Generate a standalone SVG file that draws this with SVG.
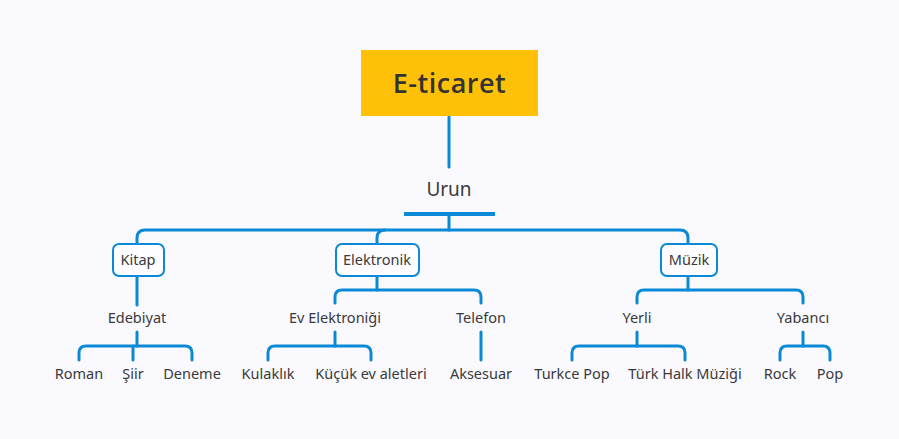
<svg xmlns="http://www.w3.org/2000/svg" width="899" height="439" viewBox="0 0 899 439">
<style>
.c{fill:none;stroke:#0a8ad6;stroke-width:3;stroke-linecap:round;stroke-linejoin:round}
.t{font-family:"Noto Sans","Open Sans",sans-serif;font-size:14.5px;fill:#3a3a3a;text-anchor:middle}
.b{fill:#fdfdff;stroke:#0a8ad6;stroke-width:2}
</style>
<rect width="899" height="439" fill="#f9f9fe"/>
<g id="connectors">
<path class="c" d="M449 117V167"/>
<path d="M404 214H495" stroke="#0a8ad6" stroke-width="4" fill="none"/>
<path class="c" d="M449 216V230"/>
<path class="c" d="M137 243V238Q137 230 145 230H680Q688 230 688 238V243"/>
<path class="c" d="M377 243V238Q377 230 385 230"/>
<path class="c" d="M137 277V305"/>
<path class="c" d="M137 332V346"/>
<path class="c" d="M79 360V353Q79 346 86 346H185Q192 346 192 353V360"/>
<path class="c" d="M133 346V360"/>
<path class="c" d="M377 277V290"/>
<path class="c" d="M335 303V297Q335 290 342 290H474Q481 290 481 297V303"/>
<path class="c" d="M335 332V346"/>
<path class="c" d="M268 360V353Q268 346 275 346H364Q371 346 371 353V360"/>
<path class="c" d="M481 332V360"/>
<path class="c" d="M688 277V290"/>
<path class="c" d="M637 303V297Q637 290 644 290H796Q803 290 803 297V303"/>
<path class="c" d="M637 332V346"/>
<path class="c" d="M572 360V353Q572 346 579 346H678Q685 346 685 353V360"/>
<path class="c" d="M803 332V346"/>
<path class="c" d="M780 360V353Q780 346 787 346H823Q830 346 830 353V360"/>
</g>
<g id="root">
<rect x="361" y="50" width="177" height="66" fill="#fec107"/>
<text x="449.500" y="93" class="t" style="font-family:'Open Sans','Noto Sans',sans-serif;font-size:27px;font-weight:600;letter-spacing:0.5px;fill:#333">E-ticaret</text>
</g>
<g id="urun"><text x="449" y="196" class="t" style="font-size:19px">Urun</text></g>
<g id="kitap"><rect class="b" x="113" y="244" width="51" height="32" rx="6"/><text x="138" y="265" class="t">Kitap</text></g>
<g id="elektronik"><rect class="b" x="336" y="244" width="83" height="32" rx="6"/><text x="377" y="265" class="t">Elektronik</text></g>
<g id="muzik"><rect class="b" x="661" y="244" width="56" height="32" rx="6"/><text x="689" y="265" class="t">Müzik</text></g>
<g id="edebiyat"><text x="137" y="323" class="t">Edebiyat</text></g>
<g id="roman"><text x="79" y="379" class="t">Roman</text></g>
<g id="siir"><text x="133" y="379" class="t">Şiir</text></g>
<g id="deneme"><text x="192" y="379" class="t">Deneme</text></g>
<g id="evelektronigi"><text x="335" y="323" class="t">Ev Elektroniği</text></g>
<g id="telefon"><text x="481" y="323" class="t">Telefon</text></g>
<g id="kulaklik"><text x="268" y="379" class="t">Kulaklık</text></g>
<g id="kucukev"><text x="371" y="379" class="t">Küçük ev aletleri</text></g>
<g id="aksesuar"><text x="481" y="379" class="t">Aksesuar</text></g>
<g id="yerli"><text x="637" y="323" class="t">Yerli</text></g>
<g id="yabanci"><text x="803" y="323" class="t">Yabancı</text></g>
<g id="turkcepop"><text x="572" y="379" class="t">Turkce Pop</text></g>
<g id="turkhalk"><text x="685" y="379" class="t">Türk Halk Müziği</text></g>
<g id="rock"><text x="780" y="379" class="t">Rock</text></g>
<g id="pop"><text x="830" y="379" class="t">Pop</text></g>
</svg>
